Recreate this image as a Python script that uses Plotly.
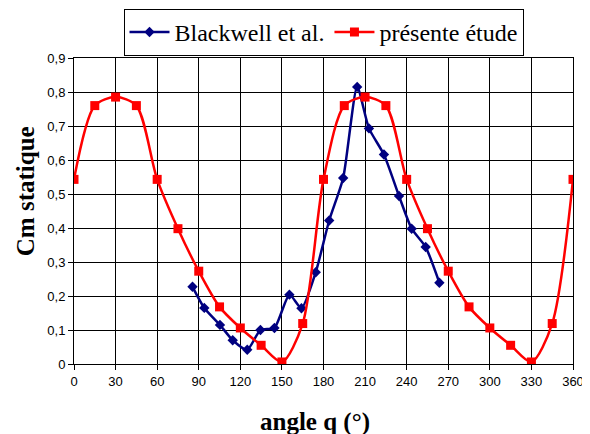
import plotly.graph_objects as go

# présente étude : every 15 degrees
angle_etude = [0, 15, 30, 45, 60, 75, 90, 105, 120, 135, 150, 165, 180,
               195, 210, 225, 240, 255, 270, 285, 300, 315, 330, 345, 360]
cm_etude = [0.543, 0.760, 0.785, 0.760, 0.543, 0.398, 0.273, 0.168, 0.106, 0.055, 0.006, 0.119, 0.543,
            0.760, 0.785, 0.760, 0.543, 0.398, 0.273, 0.168, 0.106, 0.055, 0.006, 0.119, 0.543]

# Blackwell et al.
angle_blackwell = [85.5, 94, 105.3, 114.5, 125, 134.5, 144.6, 155.4, 164.1, 174.4,
                   184.1, 194.2, 204.3, 212.8, 223.6, 234.5, 243.6, 253.7, 263.6]
cm_blackwell = [0.227, 0.165, 0.115, 0.070, 0.042, 0.100, 0.106, 0.204, 0.164, 0.270,
                0.422, 0.547, 0.815, 0.693, 0.616, 0.494, 0.398, 0.344, 0.239]

x_ticks = list(range(0, 361, 30))
y_ticks = [0, 0.1, 0.2, 0.3, 0.4, 0.5, 0.6, 0.7, 0.8, 0.9]
y_labels = ["0", "0,1", "0,2", "0,3", "0,4", "0,5", "0,6", "0,7", "0,8", "0,9"]

fig = go.Figure()
fig.add_trace(go.Scatter(
    x=angle_blackwell, y=cm_blackwell, name="Blackwell et al.",
    mode="lines+markers", line=dict(color="#000080", width=2.5, shape="spline", smoothing=0.6),
    marker=dict(symbol="diamond", size=8, color="#000080")))
fig.add_trace(go.Scatter(
    x=angle_etude, y=cm_etude, name="présente étude",
    mode="lines+markers", line=dict(color="#FF0000", width=2.5, shape="spline", smoothing=0.8),
    marker=dict(symbol="square", size=9, color="#FF0000")))

axis_style = dict(
    ticks="outside", ticklen=5, tickcolor="black", automargin=False,
    showgrid=True, gridcolor="black", gridwidth=1, zeroline=False,
    showline=True, linecolor="black", linewidth=1, mirror=True,
    tickfont=dict(family="Liberation Sans", size=13, color="black"))
fig.update_xaxes(range=[0, 360], tickvals=x_ticks, **axis_style)
fig.update_yaxes(range=[0, 0.9], tickvals=y_ticks, ticktext=y_labels, **axis_style)

title_font = dict(family="Liberation Serif", size=25, color="black")
fig.add_annotation(text="<b>angle q (°)</b>", xref="paper", yref="paper",
                   x=0.483, y=-0.19, xanchor="center", yanchor="middle",
                   showarrow=False, font=title_font)
fig.add_annotation(text="<b>Cm statique</b>", xref="paper", yref="paper",
                   x=-0.098, y=0.565, xanchor="center", yanchor="middle", textangle=-90,
                   showarrow=False, font=title_font)

# page body has an 8 px margin, so the figure is sized to what stays visible
fig.update_layout(
    width=582, height=426,
    margin=dict(l=66, r=17, t=50, b=70),
    paper_bgcolor="white", plot_bgcolor="white",
    legend=dict(orientation="h", x=0.5, xanchor="center", xref="paper",
                y=0.998, yanchor="top", yref="container",
                bordercolor="black", borderwidth=1, bgcolor="white",
                font=dict(family="Liberation Serif", size=24, color="black"),
                itemwidth=40, tracegroupgap=0),
)

fig.write_html("out.html")
